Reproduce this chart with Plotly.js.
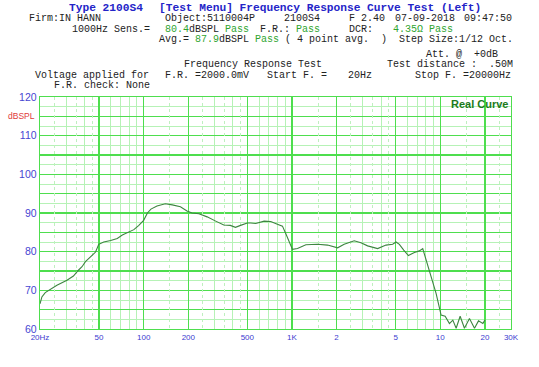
<!DOCTYPE html>
<html><head><meta charset="utf-8">
<script src="https://cdn.plot.ly/plotly-3.0.1.min.js"></script>
<style>html,body{margin:0;padding:0;background:#fff}#c{width:539px;height:367px}</style>
</head><body><div id="c"></div>
<script>
// ---- data ----
const freqHz = [20, 20.6, 21.7, 23.5, 26, 30.4, 33.6, 36.3, 38.4, 40.5, 43.8, 47.4, 49.8, 53.8, 59.9, 66.4, 71.8, 77.6, 85.9, 92.8, 97, 100, 106, 112, 123, 140, 156, 177, 196, 212, 236, 268, 306, 347, 384, 416, 450, 500, 527, 570, 649, 719, 798, 863, 908, 956, 1008, 1090, 1241, 1488, 1739, 2032, 2249, 2630, 2918, 3238, 3784, 4306, 4656, 4777, 5032, 5300, 5673, 6096, 6689, 7228, 7620, 8023, 8671, 9374, 10132, 10790, 11535, 12160, 12800, 13620, 14560, 15740, 17020, 18110, 19380, 20000];
const splDb = [66.5, 68.3, 69.4, 70.3, 71.3, 72.6, 73.7, 75.2, 76.1, 77.4, 78.7, 79.9, 81.9, 82.5, 82.9, 83.4, 84.3, 84.9, 85.7, 86.8, 87.7, 88.1, 90.0, 91.0, 91.8, 92.4, 92.1, 91.6, 90.5, 90.0, 89.8, 89.0, 87.9, 86.9, 86.8, 86.3, 86.8, 87.4, 87.4, 87.3, 87.9, 87.8, 87.1, 86.6, 84.7, 82.5, 80.6, 80.8, 81.8, 81.9, 81.7, 81.0, 81.9, 82.8, 82.3, 81.5, 80.8, 81.7, 81.9, 81.9, 82.5, 81.9, 80.4, 79.0, 79.8, 80.2, 80.8, 78.0, 73.9, 69.2, 63.6, 63.3, 61.4, 62.3, 60.2, 63.3, 60.2, 62.7, 60.2, 62.1, 61.4, 62.3];
const xTickVals = [20, 50, 100, 200, 500, 1000, 2000, 5000, 10000, 20000, 30000];
const xTickText = ['20Hz', '50', '100', '200', '500', '1K', '2', '5', '10', '20', '30K'];
const xMinorVals = [30, 40, 60, 70, 80, 90, 300, 400, 600, 700, 800, 900, 3000, 4000, 6000, 7000, 8000, 9000];
const xDotVals = [25, 35, 45, 150, 250, 350, 450, 1500, 2500, 3500, 4500, 15000, 25000];
const yTickVals = [60, 65, 70, 75, 80, 85, 90, 95, 100, 105, 110, 115, 120];
const yTickText = ['60', '', '70', '', '80', '', '90', '', '100', '', '110', '', '120'];
const yMinorVals = [62.5, 67.5, 72.5, 77.5, 82.5, 87.5, 92.5, 97.5, 102.5, 107.5, 112.5, 117.5];

// ---- layout helpers ----
const L = 40, R = 28, T = 97, B = 38, W = 539, H = 367;
const PW = W - L - R, PH = H - T - B;
const MONO = 'Liberation Mono, Courier New, monospace';
const BLK = '#222', GRN = '#2fa52f', BLU = '#2424c8';
const nb = s => s.replace(/ /g, '\u00A0');
const g = s => `<span style="color:${GRN}">${nb(s)}</span>`;
function txt(px, py, text, opts) {
  opts = opts || {};
  return {
    xref: 'paper', yref: 'paper', x: (px - L) / PW, y: (H - B - py) / PH,
    xanchor: opts.anchor || 'left', yanchor: 'middle', showarrow: false,
    text: text,
    font: {family: opts.family || MONO, size: opts.size || 10, color: opts.color || BLK, weight: opts.weight || 'normal'}
  };
}
const ann = [
  txt(67, 8, nb('Type 2100S4'), {size: 11.2, color: BLU, weight: 'bold'}),
  txt(157, 8, nb('[Test Menu] Frequency Response Curve Test (Left)'), {size: 11.2, color: BLU, weight: 'bold'}),
  txt(27, 19, nb('Firm:IN HANN')),
  txt(163, 19, nb('Object:5110004P')),
  txt(282, 19, nb('2100S4')),
  txt(347, 19, nb('F 2.40')),
  txt(393, 19, nb('07-09-2018')),
  txt(462, 19, nb('09:47:50')),
  txt(70, 29, nb('1000Hz Sens.=')),
  txt(163, 29, g('80.4') + 'dBSPL' + nb(' ') + g('Pass')),
  txt(258, 29, nb('F.R.: ') + g('Pass')),
  txt(347, 29, nb('DCR:')),
  txt(391, 29, g('4.35Ω Pass')),
  txt(157, 39, nb('Avg.= ') + g('87.9') + nb('dBSPL ') + g('Pass') + nb(' ( 4 point avg.  )  Step Size:1/12 Oct.')),
  txt(424, 55, nb('Att. @  +0dB')),
  txt(182, 65, nb('Frequency Response Test')),
  txt(385, 65, nb('Test distance :  .50M')),
  txt(33, 75, nb('Voltage applied for')),
  txt(163, 75, nb('F.R. =2000.0mV')),
  txt(265, 75, nb('Start F. =')),
  txt(346, 75, nb('20Hz')),
  txt(413, 75, nb('Stop F. =20000Hz')),
  txt(52, 85, nb('F.R. check: None')),
  txt(37, 116, 'dBSPL', {family: 'Arial, Liberation Sans, sans-serif', size: 8.5, color: '#e03a3a', anchor: 'right'}),
  txt(510, 104, 'Real Curve', {family: 'Arial, Liberation Sans, sans-serif', size: 11, color: '#1c7a1c', weight: 'bold', anchor: 'right'})
];

const xr = [Math.log10(20), Math.log10(30000)];
const trace = {
  x: freqHz, y: splDb, type: 'scatter', mode: 'lines',
  line: {color: '#3d8540', width: 1.1}, hoverinfo: 'skip', showlegend: false
};
// empty trace only to activate the dotted grid axis
const gridHolder = {x: [], y: [], type: 'scatter', mode: 'lines', xaxis: 'x2', yaxis: 'y', hoverinfo: 'skip', showlegend: false};
const layout = {
  width: W, height: H, margin: {l: L, r: R, t: T, b: B, pad: 0},
  paper_bgcolor: '#fff', plot_bgcolor: '#fff', showlegend: false,
  xaxis: {
    type: 'log', range: xr, tickvals: xTickVals, ticktext: xTickText,
    showgrid: true, gridcolor: '#4ede4e', gridwidth: 1.3,
    showline: true, linecolor: '#4ede4e', linewidth: 1.3, mirror: true,
    zeroline: false, ticks: '',
    tickfont: {family: 'Arial, Liberation Sans, sans-serif', size: 8, color: '#3b3bd0'},
    minor: {tickvals: xMinorVals, showgrid: true, gridcolor: '#b6f2b6', gridwidth: 1, ticks: ''}
  },
  xaxis2: {
    type: 'log', range: xr, overlaying: 'x', anchor: 'y', side: 'bottom',
    tickvals: xDotVals, showticklabels: false, ticks: '',
    showgrid: true, gridcolor: '#bff0bf', gridwidth: 1, griddash: 'dot',
    showline: false, zeroline: false
  },
  yaxis: {
    range: [60, 120], tickvals: yTickVals, ticktext: yTickText,
    showgrid: true, gridcolor: '#4ede4e', gridwidth: 1.3,
    showline: true, linecolor: '#4ede4e', linewidth: 1.3, mirror: true,
    zeroline: false, ticks: '',
    tickfont: {family: 'Arial, Liberation Sans, sans-serif', size: 10.5, color: '#4646d2'},
    minor: {tickvals: yMinorVals, showgrid: true, gridcolor: '#b6f2b6', gridwidth: 1, ticks: ''}
  },
  annotations: ann
};
Plotly.newPlot('c', [gridHolder, trace], layout, {staticPlot: true, displayModeBar: false});
</script></body></html>
